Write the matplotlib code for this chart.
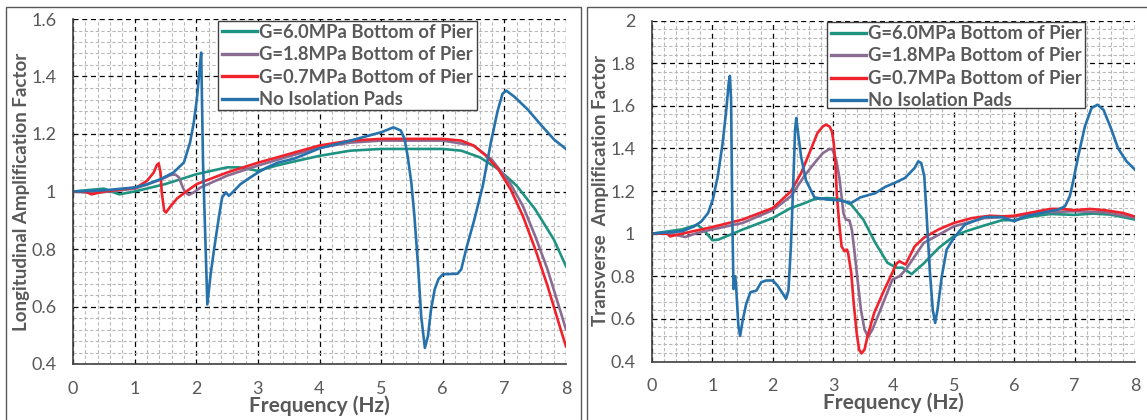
import matplotlib.pyplot as plt
from matplotlib.patches import Rectangle
from matplotlib.transforms import Bbox, TransformedBbox
from matplotlib.ticker import MultipleLocator, FuncFormatter

# Longitudinal (left panel)
long_g60_x = [0, 0.25, 0.5, 0.75, 1.0, 1.5, 2.0, 2.5, 2.7, 3.0, 3.3, 3.6, 4.0, 4.5, 5.0,
              5.5, 6.0, 6.3, 6.6, 6.9, 7.2, 7.5, 7.8, 8.0]
long_g60_y = [1.0, 1.005, 1.01, 0.99, 1.0, 1.026, 1.06, 1.084, 1.084, 1.072, 1.09, 1.105,
              1.124, 1.142, 1.148, 1.148, 1.148, 1.142, 1.119, 1.078, 1.02, 0.938, 0.834, 0.74]

long_g18_x = [0, 0.3, 0.6, 1.0, 1.2, 1.42, 1.58, 1.66, 1.72, 1.77, 1.82, 1.88, 1.96, 2.07,
              2.5, 3.0, 3.5, 4.0, 4.5, 5.0, 6.0, 6.5, 6.8, 7.1, 7.3, 7.5, 7.7, 7.9, 8.0]
long_g18_y = [1.0, 0.995, 1.0, 1.01, 1.024, 1.041, 1.057, 1.059, 1.049, 1.02, 0.997, 0.988,
              0.997, 1.014, 1.055, 1.09, 1.122, 1.153, 1.17, 1.177, 1.177, 1.16, 1.11,
              1.026, 0.95, 0.845, 0.729, 0.59, 0.52]

long_g07_x = [0, 0.2, 0.3, 0.5, 1.03, 1.2, 1.31, 1.36, 1.39, 1.42, 1.44, 1.48, 1.51, 1.58,
              1.69, 1.85, 2.01, 2.5, 3.0, 3.5, 4.0, 4.5, 5.0, 6.0, 6.3, 6.5, 6.7, 6.9,
              7.1, 7.3, 7.5, 7.7, 7.9, 8.0]
long_g07_y = [1.0, 1.0, 0.99, 1.0, 1.014, 1.037, 1.066, 1.092, 1.098, 1.066, 0.997, 0.933,
              0.927, 0.948, 0.976, 1.002, 1.026, 1.066, 1.10, 1.13, 1.16, 1.177, 1.183,
              1.183, 1.177, 1.16, 1.125, 1.078, 1.008, 0.915, 0.80, 0.672, 0.53, 0.461]

long_none_x = [0, 0.5, 1.0, 1.2, 1.42, 1.63, 1.8, 1.9, 1.96, 2.01, 2.06, 2.08, 2.11, 2.18,
               2.23, 2.29, 2.37, 2.42, 2.48, 2.53, 2.59, 2.72, 2.85, 3.0, 3.15, 3.32,
               3.6, 4.0, 4.5, 5.0, 5.2, 5.32, 5.38, 5.43, 5.49, 5.54, 5.6, 5.65, 5.71,
               5.76, 5.81, 5.87, 5.93, 6.0, 6.24, 6.3, 6.38, 6.51, 6.65, 6.78, 6.89,
               6.97, 7.03, 7.16, 7.38, 7.6, 7.81, 8.0]
long_none_y = [1.0, 1.004, 1.014, 1.025, 1.043, 1.066, 1.101, 1.171, 1.24, 1.322, 1.44,
               1.483, 1.1, 0.607, 0.706, 0.80, 0.915, 0.979, 0.997, 0.985, 0.997, 1.026,
               1.045, 1.066, 1.084, 1.10, 1.115, 1.15, 1.177, 1.206, 1.223, 1.212, 1.183,
               1.124, 1.031, 0.915, 0.74, 0.566, 0.456, 0.497, 0.59, 0.66, 0.695, 0.712,
               0.714, 0.729, 0.80, 0.90, 1.02, 1.17, 1.28, 1.34, 1.351, 1.33, 1.285,
               1.23, 1.18, 1.148]

# Transverse (right panel)
tran_g60_x = [0, 0.5, 0.75, 0.85, 1.0, 1.1, 1.5, 2.0, 2.3, 2.5, 2.7, 2.9, 3.1, 3.3, 3.5,
              3.7, 3.9, 4.05, 4.15, 4.3, 4.5, 4.75, 5.0, 5.2, 5.5, 5.8, 6.0, 6.3, 6.6,
              7.0, 7.3, 7.6, 8.0]
tran_g60_y = [1.0, 1.02, 1.042, 1.019, 0.969, 0.972, 1.019, 1.073, 1.12, 1.14, 1.163,
              1.167, 1.163, 1.136, 1.066, 0.956, 0.863, 0.84, 0.84, 0.81, 0.86, 0.933,
              0.988, 1.011, 1.038, 1.063, 1.063, 1.081, 1.092, 1.088, 1.094, 1.089, 1.066]

tran_g18_x = [0, 0.3, 0.55, 0.75, 1.0, 1.5, 2.0, 2.3, 2.52, 2.69, 2.83, 2.94, 2.99, 3.05,
              3.1, 3.14, 3.17, 3.21, 3.27, 3.31, 3.35, 3.41, 3.46, 3.52, 3.58, 3.65,
              3.74, 3.85, 3.98, 4.1, 4.2, 4.5, 5.0, 5.5, 6.0, 6.5, 7.0, 7.5, 8.0]
tran_g18_y = [1.0, 1.0, 0.984, 1.003, 1.02, 1.05, 1.11, 1.175, 1.269, 1.331, 1.378, 1.397,
              1.394, 1.347, 1.269, 1.175, 1.097, 1.066, 1.062, 1.019, 0.925, 0.769, 0.644,
              0.55, 0.516, 0.55, 0.612, 0.69, 0.784, 0.80, 0.83, 0.956, 1.034, 1.073,
              1.08, 1.1, 1.105, 1.1, 1.075]

tran_g07_x = [0, 0.25, 0.3, 0.5, 1.0, 1.5, 2.0, 2.3, 2.47, 2.63, 2.74, 2.83, 2.88, 2.94,
              2.98, 3.01, 3.04, 3.06, 3.1, 3.14, 3.19, 3.23, 3.25, 3.3, 3.34, 3.39, 3.43,
              3.47, 3.52, 3.57, 3.68, 3.85, 3.98, 4.05, 4.1, 4.2, 4.35, 4.5, 4.75, 5.0,
              5.3, 5.6, 5.8, 6.0, 6.3, 6.6, 6.8, 7.0, 7.25, 7.5, 7.8, 8.0]
tran_g07_y = [1.0, 1.0, 0.987, 1.0, 1.031, 1.066, 1.12, 1.198, 1.284, 1.394, 1.472, 1.503,
              1.511, 1.503, 1.48, 1.425, 1.316, 1.19, 1.05, 0.94, 0.917, 0.925, 0.906,
              0.816, 0.675, 0.534, 0.456, 0.438, 0.456, 0.519, 0.628, 0.738, 0.816, 0.86,
              0.87, 0.855, 0.94, 0.98, 1.02, 1.05, 1.073, 1.084, 1.081, 1.084, 1.1, 1.116,
              1.116, 1.11, 1.116, 1.11, 1.097, 1.08]

tran_none_x = [0, 0.5, 0.7, 0.82, 0.93, 1.01, 1.09, 1.17, 1.23, 1.27, 1.29, 1.31, 1.33,
               1.35, 1.38, 1.4, 1.43, 1.46, 1.5, 1.56, 1.63, 1.73, 1.81, 1.89, 2.0, 2.08,
               2.17, 2.22, 2.26, 2.3, 2.34, 2.37, 2.39, 2.42, 2.47, 2.55, 2.69, 2.9, 3.1,
               3.3, 3.45, 3.7, 3.86, 4.02, 4.19, 4.35, 4.41, 4.46, 4.51, 4.55, 4.6, 4.65,
               4.69, 4.73, 4.8, 4.88, 5.0, 5.18, 5.51, 5.79, 6.0, 6.18, 6.45, 6.73, 6.84,
               6.92, 6.97, 7.06, 7.17, 7.28, 7.38, 7.48, 7.61, 7.72, 7.86, 8.0]
tran_none_y = [1.0, 1.011, 1.034, 1.058, 1.097, 1.163, 1.27, 1.425, 1.58, 1.706, 1.74,
               1.627, 1.08, 0.74, 0.80, 0.72, 0.57, 0.52, 0.59, 0.67, 0.725, 0.733, 0.772,
               0.78, 0.78, 0.756, 0.717, 0.694, 0.733, 0.936, 1.238, 1.488, 1.542, 1.47,
               1.36, 1.25, 1.17, 1.16, 1.156, 1.144, 1.17, 1.19, 1.219, 1.238, 1.261,
               1.308, 1.339, 1.331, 1.269, 1.081, 0.831, 0.644, 0.581, 0.644, 0.80, 0.925,
               0.98, 1.042, 1.078, 1.078, 1.058, 1.081, 1.097, 1.113, 1.128, 1.175, 1.238,
               1.363, 1.503, 1.589, 1.605, 1.58, 1.488, 1.40, 1.339, 1.30]

labels = ["G=6.0MPa Bottom of Pier", "G=1.8MPa Bottom of Pier",
          "G=0.7MPa Bottom of Pier", "No Isolation Pads"]
colors = ["#1f9381", "#8a6c93", "#f0222c", "#2672ac"]

plt.rcParams["font.family"] = ["Lato", "DejaVu Sans"]
gray = "#595959"

fig = plt.figure(figsize=(11.47, 4.2), dpi=100)

# panel borders
fig.patches.append(Rectangle((6 / 1147, -0.1), 575 / 1147, 1.1 - 7 / 420, transform=fig.transFigure,
                             fill=False, edgecolor="#595959", linewidth=1.0))
fig.patches.append(Rectangle((587 / 1147, -0.1), 570 / 1147, 1.1 - 7 / 420, transform=fig.transFigure,
                             fill=False, edgecolor="#595959", linewidth=1.0))

ax1 = fig.add_axes([73 / 1147, 56 / 420, 493 / 1147, 345 / 420])
ax2 = fig.add_axes([652 / 1147, 58.5 / 420, 483 / 1147, 341 / 420])

panels = [
    (ax1, [(long_g60_x, long_g60_y), (long_g18_x, long_g18_y),
           (long_g07_x, long_g07_y), (long_none_x, long_none_y)],
     (0.4, 1.6), "Longitudinal Amplification Factor", (0.294, 0.736, 0.819, 0.994)),
    (ax2, [(tran_g60_x, tran_g60_y), (tran_g18_x, tran_g18_y),
           (tran_g07_x, tran_g07_y), (tran_none_x, tran_none_y)],
     (0.4, 2.0), "Transverse  Amplification Factor", (0.362, 0.743, 0.896, 0.995)),
]

for ax, series, ylim, ylabel, box in panels:
    for (x, y), lab, col in zip(series, labels, colors):
        ax.plot(x, y, color=col, linewidth=1.9, label=lab, solid_joinstyle="round")

    ax.set_xlim(0, 8)
    ax.set_ylim(*ylim)
    ax.xaxis.set_major_locator(MultipleLocator(1))
    ax.xaxis.set_minor_locator(MultipleLocator(0.2))
    ax.yaxis.set_major_locator(MultipleLocator(0.2))
    ax.yaxis.set_minor_locator(MultipleLocator(0.04))
    ax.yaxis.set_major_formatter(FuncFormatter(lambda v, p: f"{v:g}"))

    ax.grid(which="minor", color="#b8b8b8", linestyle=(0, (3, 2)), linewidth=0.8)
    ax.grid(which="major", color="#000000", linestyle=(0, (4, 3)), linewidth=0.9)
    ax.set_axisbelow(True)

    ax.tick_params(which="both", length=0, labelsize=13, labelcolor=gray)
    ax.tick_params(axis="y", pad=12)
    ax.tick_params(axis="x", pad=12)

    for side in ["top", "right"]:
        ax.spines[side].set_visible(False)
    for side in ["left", "bottom"]:
        ax.spines[side].set_color("#404040")
        ax.spines[side].set_linewidth(1.2)

    ax.set_xlabel("Frequency (Hz)", fontsize=15, fontweight="bold", color=gray, labelpad=-1)
    ax.set_ylabel(ylabel, fontsize=13.5, fontweight="bold", color=gray, labelpad=1)

    # legend box with the texts clipped at its right edge, as in the source
    x0, y0, x1, y1 = box
    ax.add_patch(Rectangle((x0, y0), x1 - x0, y1 - y0, transform=ax.transAxes,
                           facecolor="white", edgecolor="#404040", linewidth=1.0, zorder=4))
    leg = ax.legend(loc="upper left", bbox_to_anchor=(x0 + 0.008, y1 - 0.008),
                    borderaxespad=0, frameon=False,
                    prop={"size": 13.2, "weight": "bold"}, handlelength=1.9,
                    handletextpad=0.15, labelspacing=0.3, borderpad=0)
    clip = TransformedBbox(Bbox([[x0, y0], [x1 - 0.003, y1]]), ax.transAxes)
    for t in leg.get_texts():
        t.set_color(gray)
        t.set_clip_box(clip)
        t.set_clip_on(True)
    for h in leg.legend_handles:
        h.set_linewidth(2.4)

fig.savefig("out.png", dpi=100)
